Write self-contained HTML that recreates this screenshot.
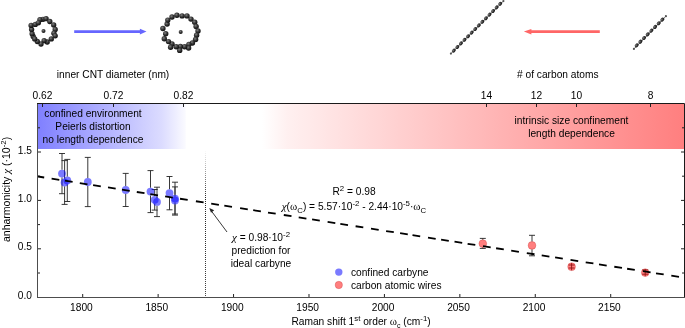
<!DOCTYPE html>
<html><head><meta charset="utf-8"><style>
html,body{margin:0;padding:0;background:#fff;width:685px;height:328px;overflow:hidden}
svg{display:block;will-change:transform}
text{font-family:"Liberation Sans",sans-serif;font-size:10.2px;fill:#000}
.g{font-family:"Liberation Serif",serif;font-size:11px}
</style></head><body>
<svg width="685" height="328" viewBox="0 0 685 328">
<defs>
<linearGradient id="gb" x1="0" x2="1" y1="0" y2="0">
<stop offset="0" stop-color="#8080ff"/><stop offset="0.84" stop-color="#dcdcff"/><stop offset="1" stop-color="#fbfbff"/></linearGradient>
<linearGradient id="gr" x1="0" x2="1" y1="0" y2="0">
<stop offset="0" stop-color="#ffffff"/><stop offset="0.06" stop-color="#fff0f0"/><stop offset="1" stop-color="#ff7f7f"/></linearGradient>
<radialGradient id="atom" cx="0.4" cy="0.35" r="0.65">
<stop offset="0" stop-color="#808080"/><stop offset="0.5" stop-color="#383838"/><stop offset="1" stop-color="#0c0c0c"/></radialGradient>
<clipPath id="plot"><rect x="38" y="104" width="646" height="193"/></clipPath>
</defs>

<rect x="38" y="104" width="147.8" height="45" fill="url(#gb)"/>
<rect x="262" y="104" width="422" height="45" fill="url(#gr)"/>
<text x="93" y="117.30" text-anchor="middle">confined environment</text>
<text x="93" y="130.10" text-anchor="middle">Peierls distortion</text>
<text x="93" y="143.10" text-anchor="middle">no length dependence</text>
<text x="571.5" y="123.60" text-anchor="middle">intrinsic size confinement</text>
<text x="571.5" y="136.60" text-anchor="middle">length dependence</text>
<text x="81.4" y="311.40" text-anchor="middle">1800</text>
<text x="156.8" y="311.40" text-anchor="middle">1850</text>
<text x="232.3" y="311.40" text-anchor="middle">1900</text>
<text x="307.7" y="311.40" text-anchor="middle">1950</text>
<text x="383.1" y="311.40" text-anchor="middle">2000</text>
<text x="458.5" y="311.40" text-anchor="middle">2050</text>
<text x="534.0" y="311.40" text-anchor="middle">2100</text>
<text x="609.4" y="311.40" text-anchor="middle">2150</text>
<text x="42.5" y="98.90" text-anchor="middle">0.62</text>
<text x="113.5" y="98.90" text-anchor="middle">0.72</text>
<text x="183.5" y="98.90" text-anchor="middle">0.82</text>
<text x="486.5" y="98.90" text-anchor="middle">14</text>
<text x="536.5" y="98.90" text-anchor="middle">12</text>
<text x="576.5" y="98.90" text-anchor="middle">10</text>
<text x="650.5" y="98.90" text-anchor="middle">8</text>
<path d="M82.7 297V294M158.13 297V294M233.56 297V294M308.99 297V294M384.42 297V294M459.85 297V294M535.28 297V294M610.71 297V294M38 248.8H41M684 248.8H681M38 200.4H41M684 200.4H681M38 152.0H41M684 152.0H681M38 273.0H40M684 273.0H682M38 224.6H40M684 224.6H682M38 176.2H40M684 176.2H682M38 127.8H40M684 127.8H682M42.5 104V107M113.5 104V107M183.5 104V107M486.5 104V107M536.5 104V107M576.5 104V107M650.5 104V107" stroke="#222" stroke-width="1" fill="none"/>
<text x="32" y="298.70" text-anchor="end">0.0</text>
<text x="32" y="250.30" text-anchor="end">0.5</text>
<text x="32" y="201.90" text-anchor="end">1.0</text>
<text x="32" y="153.50" text-anchor="end">1.5</text>
<text x="56.8" y="78.40">inner CNT diameter (nm)</text>
<text x="517" y="77.50"># of carbon atoms</text>
<text x="291.4" y="325.40">Raman shift 1<tspan dy="-4.2" font-size="7.8px">st</tspan><tspan dy="4.2"> order </tspan><tspan class="g">ω</tspan><tspan dy="2.5" font-size="7px">c</tspan><tspan dy="-2.5"> (cm</tspan><tspan dy="-4.2" font-size="7.8px">-1</tspan><tspan dy="4.2">)</tspan></text>
<text transform="translate(9.8,242) rotate(-90)" style="font-size:10.5px">anharmonicity <tspan class="g" font-style="italic">χ</tspan> (·10<tspan dy="-4.2" font-size="7.8px">-2</tspan><tspan dy="4.2">)</tspan></text>
<linearGradient id="gd" gradientUnits="userSpaceOnUse" x1="0" y1="150" x2="0" y2="297"><stop offset="0" stop-color="#fff"/><stop offset="0.33" stop-color="#222"/><stop offset="1" stop-color="#444"/></linearGradient>
<line x1="205.5" y1="151" x2="205.5" y2="297" stroke="url(#gd)" stroke-width="1" stroke-dasharray="1 1"/>
<path d="M62 153.5V169.7M62 177.5V193.7M59 153.5H65M59 193.7H65M64.6 160.6V178.6M64.6 186.4V204.4M61.599999999999994 160.6H67.6M61.599999999999994 204.4H67.6M67.3 159.4V176.6M67.3 184.4V201.5M64.3 159.4H70.3M64.3 201.5H70.3M87.8 157.4V178.1M87.8 185.9V206.6M84.8 157.4H90.8M84.8 206.6H90.8M125.7 173.4V186.1M125.7 193.9V206.5M122.7 173.4H128.7M122.7 206.5H128.7M150.5 170.6V187.7M150.5 195.5V212.6M147.5 170.6H153.5M147.5 212.6H153.5M154.7 189.5V195.9M154.7 203.70000000000002V210.1M151.7 189.5H157.7M151.7 210.1H157.7M157 187.2V198.0M157 205.8V216.6M154 187.2H160M154 216.6H160M169.5 176.5V189.2M169.5 197.0V209.8M166.5 176.5H172.5M166.5 209.8H172.5M175 182.2V194.7M175 202.5V215.1M172 182.2H178M172 215.1H178M175 186.9V196.6M175 204.4V214M172 186.9H178M172 214H178M482.8 238.4V239.7M482.8 247.5V248.4M479.8 238.4H485.8M479.8 248.4H485.8M532 235.3V241.5M532 249.3V255.8M529 235.3H535M529 255.8H535M571.6 263.09999999999997V270.3M568.6 265.0H574.6M568.6 268.0H574.6M645.2 269.0V276.20000000000005M642.2 270.0H648.2M642.2 274.2H648.2" stroke="#222" stroke-width="0.9" fill="none"/>
<circle cx="62" cy="173.6" r="3.9" fill="#0000ff" fill-opacity="0.52"/>
<circle cx="64.6" cy="182.5" r="3.9" fill="#0000ff" fill-opacity="0.52"/>
<circle cx="67.3" cy="180.5" r="3.9" fill="#0000ff" fill-opacity="0.52"/>
<circle cx="87.8" cy="182" r="3.9" fill="#0000ff" fill-opacity="0.52"/>
<circle cx="125.7" cy="190" r="3.9" fill="#0000ff" fill-opacity="0.52"/>
<circle cx="150.5" cy="191.6" r="3.9" fill="#0000ff" fill-opacity="0.52"/>
<circle cx="154.7" cy="199.8" r="3.9" fill="#0000ff" fill-opacity="0.52"/>
<circle cx="157" cy="201.9" r="3.9" fill="#0000ff" fill-opacity="0.52"/>
<circle cx="169.5" cy="193.1" r="3.9" fill="#0000ff" fill-opacity="0.52"/>
<circle cx="175" cy="198.6" r="3.9" fill="#0000ff" fill-opacity="0.52"/>
<circle cx="175" cy="200.5" r="3.9" fill="#0000ff" fill-opacity="0.52"/>
<circle cx="482.8" cy="243.6" r="3.9" fill="#ff0000" fill-opacity="0.5" stroke="#a00" stroke-opacity="0.45" stroke-width="0.5"/>
<circle cx="532" cy="245.4" r="3.9" fill="#ff0000" fill-opacity="0.5" stroke="#a00" stroke-opacity="0.45" stroke-width="0.5"/>
<circle cx="571.6" cy="266.7" r="3.9" fill="#ff0000" fill-opacity="0.5" stroke="#a00" stroke-opacity="0.45" stroke-width="0.5"/>
<circle cx="645.2" cy="272.6" r="3.9" fill="#ff0000" fill-opacity="0.5" stroke="#a00" stroke-opacity="0.45" stroke-width="0.5"/>
<g clip-path="url(#plot)"><path d="M36.5 176.28L44.2 177.49M51.6 178.65L59.3 179.85M64.9 180.73L72.6 181.94M79.8 183.06L87.5 184.27M93.1 185.14L100.8 186.35M108.0 187.48L115.7 188.68M122.0 189.67L129.7 190.88M136.8 191.99L144.5 193.19M150.3 194.10L158.0 195.31M165.1 196.42L172.8 197.62M180.0 198.75L187.7 199.96M195.9 201.24L203.6 202.45M211.2 203.64L218.9 204.84M224.3 205.69L232.0 206.89M240.1 208.16L247.8 209.37M253.2 210.21L260.9 211.42M268.0 212.53L275.7 213.73M283.8 215.00L291.5 216.21M298.7 217.33L306.4 218.54M312.1 219.43L319.8 220.64M327.6 221.86L335.3 223.06M340.3 223.85L348.0 225.05M355.6 226.24L363.3 227.45M371.0 228.65L378.7 229.86M386.1 231.02L393.8 232.22M400.1 233.21L407.8 234.42M412.5 235.15L420.2 236.36M428.0 237.58L435.7 238.78M441.1 239.63L448.8 240.83M454.5 241.73L462.2 242.93M467.6 243.78L475.3 244.98M483.0 246.19L490.7 247.39M496.1 248.24L503.8 249.45M511.2 250.60L518.9 251.81M526.8 253.05L534.5 254.25M541.7 255.38L549.4 256.58M555.1 257.48L562.8 258.68M570.5 259.89L578.2 261.09M585.7 262.27L593.4 263.47M599.0 264.35L606.7 265.56M614.3 266.75L622.0 267.95M627.1 268.75L634.8 269.96M642.9 271.22L650.6 272.43M656.0 273.27L663.7 274.48M671.3 275.67L679.0 276.88" stroke="#000" stroke-width="1.8" fill="none"/></g>
<path d="M37.5 297.5V103.5" stroke="#4d4d4d" stroke-width="1" fill="none"/>
<path d="M37 297.5H685" stroke="#4d4d4d" stroke-width="1" fill="none"/>
<path d="M37 103.5H684.5V297" stroke="#1a1a1a" stroke-width="1" fill="none"/>
<line x1="227" y1="232" x2="211" y2="210.5" stroke="#222" stroke-width="0.9"/>
<path d="M209.3 207.9L214.2 210.3L211.0 212.7Z" fill="#222"/>
<text x="261" y="241.40" text-anchor="middle"><tspan class="g" font-style="italic">χ</tspan> = 0.98·10<tspan dy="-4.2" font-size="7.8px">-2</tspan></text>
<text x="261" y="254.40" text-anchor="middle">prediction for</text>
<text x="261" y="267.30" text-anchor="middle">ideal carbyne</text>
<text x="354" y="195.40" text-anchor="middle">R<tspan dy="-4.2" font-size="7.8px">2</tspan><tspan dy="4.2"> = 0.98</tspan></text>
<text x="354" y="209.80" text-anchor="middle"><tspan class="g" font-style="italic">χ</tspan>(<tspan class="g">ω</tspan><tspan dy="3" font-size="7.8px">C</tspan><tspan dy="-3">) = 5.57·10</tspan><tspan dy="-4.2" font-size="7.8px">-2</tspan><tspan dy="4.2"> - 2.44·10</tspan><tspan dy="-4.2" font-size="7.8px">-5</tspan><tspan dy="4.2">·</tspan><tspan class="g">ω</tspan><tspan dy="3" font-size="7.8px">C</tspan></text>
<circle cx="338.8" cy="272.1" r="3.7" fill="#0000ff" fill-opacity="0.52"/>
<circle cx="338.8" cy="285" r="3.7" fill="#ff0000" fill-opacity="0.5" stroke="#a00" stroke-opacity="0.45" stroke-width="0.5"/>
<text x="350.9" y="275.60">confined carbyne</text>
<text x="350.9" y="288.70">carbon atomic wires</text>
<line x1="74.2" y1="31.6" x2="141" y2="31.6" stroke="#6666ff" stroke-width="2.6"/>
<path d="M146.5 31.6L139.9 28.8L139.9 34.6Z" fill="#6666ff"/>
<line x1="599.8" y1="31.6" x2="530" y2="31.6" stroke="#ff6666" stroke-width="2.6"/>
<path d="M523.9 31.6L531.4 28.9L531.4 34.5Z" fill="#ff6666"/>
<circle cx="43" cy="19.3" r="2.65" fill="url(#atom)"/><circle cx="33.2" cy="36.4" r="2.65" fill="url(#atom)"/><circle cx="39.9" cy="19.7" r="2.65" fill="url(#atom)"/><circle cx="46.1" cy="18.7" r="2.65" fill="url(#atom)"/><circle cx="49.8" cy="21.5" r="2.65" fill="url(#atom)"/><circle cx="53.7" cy="24.9" r="2.65" fill="url(#atom)"/><circle cx="55.2" cy="29.5" r="2.65" fill="url(#atom)"/><circle cx="53.9" cy="33.2" r="2.65" fill="url(#atom)"/><circle cx="55.2" cy="35.8" r="2.65" fill="url(#atom)"/><circle cx="51.3" cy="38.9" r="2.65" fill="url(#atom)"/><circle cx="47.2" cy="42" r="2.65" fill="url(#atom)"/><circle cx="44.1" cy="40.7" r="2.65" fill="url(#atom)"/><circle cx="41" cy="44" r="2.65" fill="url(#atom)"/><circle cx="37.3" cy="41.5" r="2.65" fill="url(#atom)"/><circle cx="34.7" cy="38.9" r="2.65" fill="url(#atom)"/><circle cx="32.1" cy="33.7" r="2.65" fill="url(#atom)"/><circle cx="31.6" cy="29.5" r="2.65" fill="url(#atom)"/><circle cx="31.1" cy="25.4" r="2.65" fill="url(#atom)"/><circle cx="35.3" cy="24.4" r="2.65" fill="url(#atom)"/><circle cx="38.4" cy="22.8" r="2.65" fill="url(#atom)"/><circle cx="43.5" cy="31.1" r="2.0" fill="url(#atom)"/><circle cx="176.9" cy="15.3" r="2.7" fill="url(#atom)"/><circle cx="182.1" cy="15.9" r="2.7" fill="url(#atom)"/><circle cx="187" cy="15.9" r="2.7" fill="url(#atom)"/><circle cx="191" cy="19.1" r="2.7" fill="url(#atom)"/><circle cx="194.7" cy="22.3" r="2.7" fill="url(#atom)"/><circle cx="196.1" cy="26.5" r="2.7" fill="url(#atom)"/><circle cx="198" cy="31" r="2.7" fill="url(#atom)"/><circle cx="196.6" cy="35.2" r="2.7" fill="url(#atom)"/><circle cx="195.6" cy="39.5" r="2.7" fill="url(#atom)"/><circle cx="192.4" cy="43" r="2.7" fill="url(#atom)"/><circle cx="188.9" cy="44.4" r="2.7" fill="url(#atom)"/><circle cx="188.6" cy="48.1" r="2.7" fill="url(#atom)"/><circle cx="184.6" cy="46.7" r="2.7" fill="url(#atom)"/><circle cx="180.4" cy="46.5" r="2.7" fill="url(#atom)"/><circle cx="179.7" cy="50.4" r="2.7" fill="url(#atom)"/><circle cx="176.2" cy="46.7" r="2.7" fill="url(#atom)"/><circle cx="172" cy="43.9" r="2.7" fill="url(#atom)"/><circle cx="170.6" cy="47.2" r="2.7" fill="url(#atom)"/><circle cx="168.5" cy="41.6" r="2.7" fill="url(#atom)"/><circle cx="164.3" cy="38.8" r="2.7" fill="url(#atom)"/><circle cx="165.7" cy="33.8" r="2.7" fill="url(#atom)"/><circle cx="162.9" cy="28.5" r="2.7" fill="url(#atom)"/><circle cx="167.1" cy="24" r="2.7" fill="url(#atom)"/><circle cx="167.8" cy="20.1" r="2.7" fill="url(#atom)"/><circle cx="172" cy="17" r="2.7" fill="url(#atom)"/><circle cx="180.7" cy="32" r="2.0" fill="url(#atom)"/>
<line x1="450.9" y1="53.6" x2="503.4" y2="1.1" stroke="#555" stroke-width="0.8"/><circle cx="450.9" cy="53.6" r="1.1" fill="#555"/><circle cx="503.4" cy="1.1" r="1.1" fill="#555"/><ellipse cx="453.80" cy="50.60" rx="2.15" ry="1.68" transform="rotate(-45 453.80 50.60)" fill="url(#atom)"/><ellipse cx="457.37" cy="47.00" rx="2.15" ry="1.68" transform="rotate(-45 457.37 47.00)" fill="url(#atom)"/><ellipse cx="460.94" cy="43.40" rx="2.15" ry="1.68" transform="rotate(-45 460.94 43.40)" fill="url(#atom)"/><ellipse cx="464.51" cy="39.80" rx="2.15" ry="1.68" transform="rotate(-45 464.51 39.80)" fill="url(#atom)"/><ellipse cx="468.08" cy="36.20" rx="2.15" ry="1.68" transform="rotate(-45 468.08 36.20)" fill="url(#atom)"/><ellipse cx="471.65" cy="32.60" rx="2.15" ry="1.68" transform="rotate(-45 471.65 32.60)" fill="url(#atom)"/><ellipse cx="475.22" cy="29.00" rx="2.15" ry="1.68" transform="rotate(-45 475.22 29.00)" fill="url(#atom)"/><ellipse cx="478.79" cy="25.40" rx="2.15" ry="1.68" transform="rotate(-45 478.79 25.40)" fill="url(#atom)"/><ellipse cx="482.36" cy="21.80" rx="2.15" ry="1.68" transform="rotate(-45 482.36 21.80)" fill="url(#atom)"/><ellipse cx="485.93" cy="18.20" rx="2.15" ry="1.68" transform="rotate(-45 485.93 18.20)" fill="url(#atom)"/><ellipse cx="489.50" cy="14.60" rx="2.15" ry="1.68" transform="rotate(-45 489.50 14.60)" fill="url(#atom)"/><ellipse cx="493.07" cy="11.00" rx="2.15" ry="1.68" transform="rotate(-45 493.07 11.00)" fill="url(#atom)"/><ellipse cx="496.64" cy="7.40" rx="2.15" ry="1.68" transform="rotate(-45 496.64 7.40)" fill="url(#atom)"/><ellipse cx="500.21" cy="3.80" rx="2.15" ry="1.68" transform="rotate(-45 500.21 3.80)" fill="url(#atom)"/>
<line x1="633.9" y1="48.9" x2="665.9" y2="16.2" stroke="#555" stroke-width="0.8"/><circle cx="633.9" cy="48.9" r="1.1" fill="#555"/><circle cx="665.9" cy="16.2" r="1.1" fill="#555"/><ellipse cx="636.70" cy="45.40" rx="2.2" ry="1.72" transform="rotate(-45 636.70 45.40)" fill="url(#atom)"/><ellipse cx="640.37" cy="41.71" rx="2.2" ry="1.72" transform="rotate(-45 640.37 41.71)" fill="url(#atom)"/><ellipse cx="644.04" cy="38.02" rx="2.2" ry="1.72" transform="rotate(-45 644.04 38.02)" fill="url(#atom)"/><ellipse cx="647.71" cy="34.33" rx="2.2" ry="1.72" transform="rotate(-45 647.71 34.33)" fill="url(#atom)"/><ellipse cx="651.38" cy="30.64" rx="2.2" ry="1.72" transform="rotate(-45 651.38 30.64)" fill="url(#atom)"/><ellipse cx="655.05" cy="26.95" rx="2.2" ry="1.72" transform="rotate(-45 655.05 26.95)" fill="url(#atom)"/><ellipse cx="658.72" cy="23.26" rx="2.2" ry="1.72" transform="rotate(-45 658.72 23.26)" fill="url(#atom)"/><ellipse cx="662.39" cy="19.57" rx="2.2" ry="1.72" transform="rotate(-45 662.39 19.57)" fill="url(#atom)"/>
</svg></body></html>
